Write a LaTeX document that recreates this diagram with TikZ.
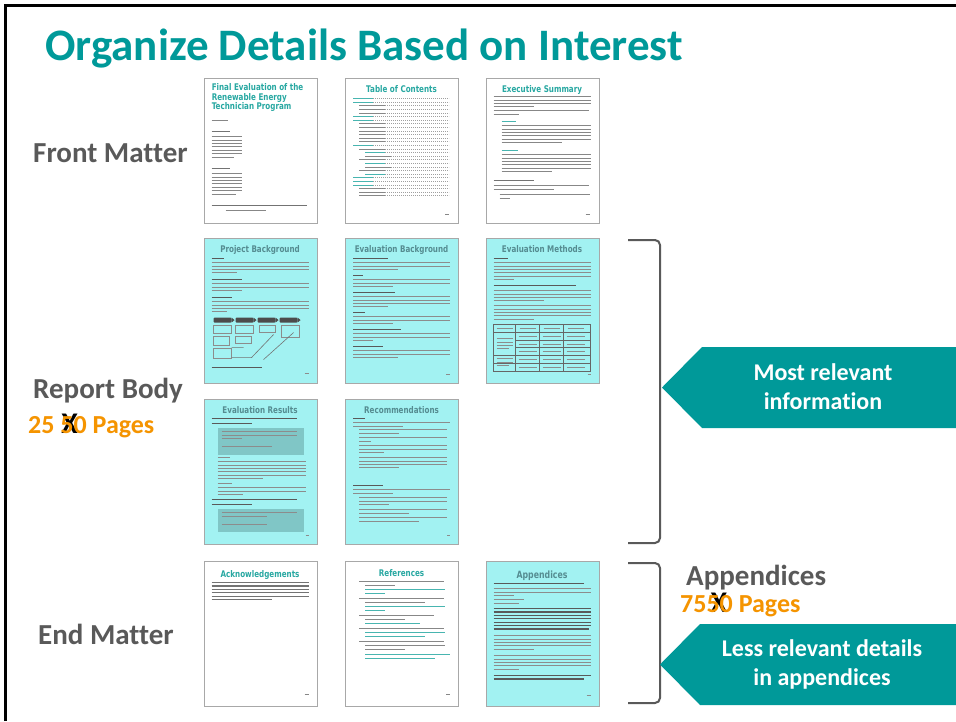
\documentclass[tikz,border=0pt]{standalone}
\usepackage{graphicx}
\usepackage{fontspec}
\setmainfont{Carlito}[Ligatures=NoCommon]
\newfontfamily\dv{DejaVu Sans}
\definecolor{teal1}{RGB}{0,153,153}
\definecolor{lbl}{RGB}{89,89,89}
\definecolor{org}{RGB}{245,148,0}
\definecolor{cyanpg}{RGB}{162,242,242}
\definecolor{pgborder}{RGB}{168,168,168}
\definecolor{ttlw}{RGB}{40,168,162}
\definecolor{ttlc}{RGB}{85,140,145}
\definecolor{txt}{RGB}{135,135,135}
\definecolor{boxshade}{RGB}{128,198,198}
\tikzset{
  page/.style={draw=pgborder, line width=0.9pt, minimum width=113pt, minimum height=145pt, inner sep=0pt},
  wpage/.style={page, fill=white},
  cpage/.style={page, fill=cyanpg},
  pgt/.style={font=\dv\bfseries\fontsize{9.2}{10}\selectfont, inner sep=0pt},
  tx/.style={draw=txt, line width=0.9pt},
  txd/.style={draw=black!55, line width=1.1pt},
  txl/.style={draw=ttlw!85, line width=0.9pt},
  cyanin/.style={tx/.style={draw=black!45, line width=0.9pt}, txd/.style={draw=black!65, line width=1.1pt}},
  lblnode/.style={font=\bfseries\fontsize{29}{31}\selectfont, text=lbl, inner sep=0pt},
  orgnode/.style={font=\bfseries\fontsize{26}{28}\selectfont, text=org, inner sep=0pt},
  arrtext/.style={font=\bfseries\fontsize{24}{29}\selectfont, text=white, align=center, inner sep=0pt},
  brk/.style={draw=lbl, line width=2pt, rounded corners=5pt},
}
\newcommand{\sq}[1]{\scalebox{0.78}[1]{#1}}
\newcommand{\bigX}{{\color{black}\fontsize{30}{30}\selectfont X}}
\newcommand{\pgdy}{3.4}
\newcommand{\pglines}[6][tx]{%
  \pgfmathtruncatemacro\pgn{#4-1}%
  \ifnum\pgn>0 \foreach \ii in {1,...,\pgn}{\draw[#1] (#2,{#3+(\ii-1)*\pgdy}) -- ++(#5,0);}\fi
  \draw[#1] (#2,{#3+(#4-1)*\pgdy}) -- ++(#6,0);}
\begin{document}
\begin{tikzpicture}[x=1pt,y=-1pt]
\useasboundingbox (0,0) rectangle (956,721);
\fill[white] (0,0) rectangle (956,721);
\draw[black, line width=3pt] (5.5,721) -- (5.5,5.5) -- (956,5.5);

% title
\node[anchor=base west, inner sep=0pt, text=teal1, font=\bfseries\fontsize{45}{48}\selectfont] (title) at (45,60) {Organize Details Based on Interest};

% labels
\node[lblnode, anchor=base west] (front) at (33,162) {Front Matter};
\node[lblnode, anchor=base west] (body) at (33,398) {Report Body};
\node[orgnode, anchor=base west] (bodypg) at (28,433) {25 \makebox[0pt][l]{\hspace{1pt}\bigX}50 Pages};
\node[lblnode, anchor=base west] (endm) at (38,644) {End Matter};
\node[lblnode, anchor=base west] (appx) at (686,585) {Appendices};
\node[orgnode, anchor=base west] (appxpg) at (680,612.5) {75\makebox[0pt][l]{\hspace{4pt}\bigX}50 Pages};

% pages
\node[wpage] (fm1) at (260.5,150.5) {};
\node[wpage] (fm2) at (402,150.5) {};
\node[wpage] (fm3) at (542.5,150.5) {};
\node[cpage] (rb1) at (260.5,310.5) {};
\node[cpage] (rb2) at (402,310.5) {};
\node[cpage] (rb3) at (542.5,310.5) {};
\node[cpage] (rb4) at (260.5,471.5) {};
\node[cpage] (rb5) at (402,471.5) {};
\node[wpage] (em1) at (260.5,633.5) {};
\node[wpage] (em2) at (402,633.5) {};
\node[cpage] (em3) at (542.5,633.5) {};

% ---- fm1 title page
\begin{scope}[shift={(fm1.north west)}]
\node[pgt, anchor=north west, align=left, text=ttlw] (fm1t) at (8,5.5) {\sq{Final Evaluation of the}\\[-0.2pt]\sq{Renewable Energy}\\[-0.2pt]\sq{Technician Program}};
\pglines[tx]{8}{43}{1}{16}{16}
\pglines[txd]{8}{54}{1}{18}{18}
\pglines[tx]{8}{59}{7}{30}{22}
\pglines[txd]{8}{91}{1}{18}{18}
\pglines[tx]{8}{96}{7}{30}{24}
\pglines[txd]{8}{128}{1}{95}{95}
\pglines[tx]{22}{133}{1}{40}{40}
\end{scope}

% ---- fm2 TOC
\begin{scope}[shift={(fm2.north west)}]
\node[pgt, text=ttlw] (fm2t) at (56.5,12) {\sq{Table of Contents}};
\foreach \yy/\xx/\ll in {21/8/1,24.6/8/1,28.2/14/0,31.8/14/0,35.4/14/0,39/8/1,42.6/8/1,46.2/14/0,49.8/14/0,53.4/14/0,57/14/0,60.6/14/0,64.2/14/0,67.8/8/1,71.4/14/0,75/20/1,78.6/20/0,82.2/14/0,85.8/20/1,89.4/20/0,93/14/0,96.6/20/1,100.2/8/1,103.8/8/1,107.4/8/1,111/14/0,114.6/14/0,118.2/14/0}{
  \draw[txt!80, line width=0.6pt, dash pattern=on 0.9pt off 1.1pt] (\xx,\yy) -- (104,\yy);
  \ifnum\ll=1 \draw[txl] (\xx,\yy) -- ++(20,0); \else \draw[tx] (\xx,\yy) -- ++(26,0); \fi
}
\pglines[tx]{100}{137}{1}{4}{4}
\end{scope}

% ---- fm3 Exec summary
\begin{scope}[shift={(fm3.north west)}]
\node[pgt, text=ttlw] (fm3t) at (56.5,12) {\sq{Executive Summary}};
\pglines[tx]{8}{19}{4}{97}{40}
\pglines[tx]{8}{33}{1}{95}{95}
\pglines[tx]{8}{37}{1}{25}{25}
\pglines[txl]{16}{44}{1}{14}{14}
\pglines[tx]{16}{48}{6}{89}{60}
\pglines[txl]{16}{73}{1}{16}{16}
\pglines[tx]{16}{77}{6}{89}{50}
\pglines[txd]{8}{103}{1}{40}{40}
\pglines[tx]{8}{108}{2}{95}{60}
\pglines[tx]{14}{117}{2}{90}{10}
\pglines[tx]{100}{137}{1}{4}{4}
\end{scope}

% ---- rb1 Project Background
\begin{scope}[shift={(rb1.north west)}, cyanin]
\node[pgt, text=ttlc] (rb1t) at (56.5,12) {\sq{Project Background}};
\pglines[txd]{8}{21}{1}{12}{12}
\pglines[tx]{8}{25}{4}{97}{25}
\pglines[txd]{8}{42}{1}{30}{30}
\pglines[tx]{8}{46}{3}{97}{30}
\pglines[txd]{8}{60}{1}{20}{20}
\pglines[tx]{8}{64}{4}{97}{15}
\foreach \xa in {10,32,54,76}{
  \fill[black!70, rounded corners=1pt] (\xa,80) rectangle ++(18,5);
  \fill[black!70] (\xa+18,80) -- (\xa+21,82.5) -- (\xa+18,85) -- cycle;
}
\draw[black!45, line width=0.4pt] (10,88) rectangle (28,96) (10,99) rectangle (26,108) (10,111) rectangle (28,121)
  (32,88) rectangle (50,96) (32,99) rectangle (48,106) (56,88) rectangle (72,95) (78,88) rectangle (96,100);
\draw[black!55, line width=0.6pt] (48,120) -- (70,97) (60,122) -- (90,95) (28,120) -- (48,120) (28,110) -- (40,110);
\pglines[txd]{8}{130}{1}{50}{50}
\pglines[tx]{101}{136}{1}{4}{4}
\end{scope}

% ---- rb2 Evaluation Background
\begin{scope}[shift={(rb2.north west)}, cyanin]
\node[pgt, text=ttlc] (rb2t) at (56.5,12) {\sq{Evaluation Background}};
\pglines[txd]{8}{21}{1}{35}{35}
\pglines[tx]{8}{25}{3}{97}{45}
\pglines[txd]{8}{38}{1}{10}{10}
\pglines[tx]{8}{42}{3}{97}{40}
\pglines[txd]{8}{55}{1}{42}{42}
\pglines[tx]{8}{59}{4}{97}{35}
\pglines[txd]{8}{75}{1}{12}{12}
\pglines[tx]{8}{79}{3}{97}{40}
\pglines[txd]{8}{92}{1}{48}{48}
\pglines[tx]{8}{96}{3}{97}{20}
\pglines[txd]{8}{109}{1}{30}{30}
\pglines[tx]{8}{113}{3}{97}{45}
\pglines[tx]{101}{137}{1}{4}{4}
\end{scope}

% ---- rb3 Evaluation Methods
\begin{scope}[shift={(rb3.north west)}, cyanin]
\node[pgt, text=ttlc] (rb3t) at (56.5,12) {\sq{Evaluation Methods}};
\pglines[txd]{8}{21}{1}{14}{14}
\pglines[tx]{8}{25}{6}{97}{20}
\pglines[txd]{8}{48}{1}{82}{82}
\pglines[tx]{8}{53}{4}{97}{50}
\pglines[tx]{8}{68}{5}{97}{40}
\draw[black!60, line width=0.6pt] (8,87) rectangle (105,134)
  (30,87) -- (30,134) (54,87) -- (54,134) (78,87) -- (78,134)
  (8,95) -- (105,95) (30,103) -- (105,103) (30,110) -- (105,110) (8,118) -- (105,118) (8,126) -- (105,126);
\foreach \cx in {33,57,81}{\foreach \cy in {99,106.5,114,122,130}{\draw[black!45, line width=0.6pt] (\cx,\cy) -- ++(18,0);}}
\foreach \cx in {11,34,58,82}{\draw[black!45, line width=0.6pt] (\cx,91) -- ++(16,0);}
\pglines[tx]{11}{101}{4}{16}{12}
\pglines[tx]{11}{121}{3}{16}{12}
\pglines[tx]{102}{137}{1}{3}{3}
\end{scope}

% ---- rb4 Evaluation Results
\begin{scope}[shift={(rb4.north west)}, cyanin]
\node[pgt, text=ttlc] (rb4t) at (56.5,12) {\sq{Evaluation Results}};
\pglines[txd]{8}{20}{1}{85}{85}
\pglines[txd]{8}{25}{1}{40}{40}
\fill[boxshade] (14,29) rectangle (100,56);
\pglines[tx]{18}{33}{3}{75}{20}
\pglines[tx]{18}{48}{1}{50}{50}
\pglines[tx]{14}{59}{1}{12}{12}
\pglines[tx]{14}{63}{6}{88}{45}
\pglines[tx]{14}{85}{1}{14}{14}
\pglines[tx]{14}{89}{3}{88}{25}
\pglines[txd]{8}{101}{1}{85}{85}
\pglines[txd]{8}{106}{1}{40}{40}
\fill[boxshade] (14,110) rectangle (100,133);
\pglines[tx]{18}{114}{2}{75}{45}
\pglines[tx]{18}{126}{1}{45}{45}
\pglines[tx]{102}{137}{1}{3}{3}
\end{scope}

% ---- rb5 Recommendations
\begin{scope}[shift={(rb5.north west)}, cyanin]
\node[pgt, text=ttlc] (rb5t) at (56.5,12) {\sq{Recommendations}};
\pglines[txd]{8}{20}{1}{12}{12}
\pglines[tx]{8}{24}{2}{97}{50}
\pglines[tx]{14}{31}{2}{88}{40}
\pglines[tx]{14}{39}{2}{88}{12}
\pglines[tx]{14}{47}{3}{88}{25}
\pglines[tx]{14}{59}{4}{88}{40}
\pglines[txd]{8}{87}{1}{30}{30}
\pglines[tx]{8}{91}{2}{97}{40}
\pglines[tx]{14}{99}{3}{88}{30}
\pglines[tx]{14}{111}{2}{88}{50}
\pglines[tx]{14}{119}{2}{88}{60}
\pglines[tx]{102}{137}{1}{3}{3}
\end{scope}

% ---- em1 Acknowledgements
\begin{scope}[shift={(em1.north west)}]
\node[pgt, text=ttlw] (em1t) at (56.5,14) {\sq{Acknowledgements}};
\pglines[txd]{8}{22}{6}{97}{60}
\pglines[tx]{101}{134}{1}{4}{4}
\end{scope}

% ---- em2 References
\begin{scope}[shift={(em2.north west)}]
\node[pgt, text=ttlw] (em2t) at (56.5,13) {\sq{References}};
\pglines[tx]{14}{21}{1}{85}{85}
\pglines[tx]{20}{25}{1}{30}{30}
\pglines[txl]{20}{29}{2}{80}{20}
\pglines[tx]{14}{38}{1}{85}{85}
\pglines[tx]{20}{42}{1}{60}{60}
\pglines[txl]{20}{46}{2}{80}{20}
\pglines[tx]{14}{55}{1}{75}{75}
\pglines[tx]{20}{59}{1}{40}{40}
\pglines[txl]{20}{63}{1}{55}{55}
\pglines[tx]{14}{68}{1}{85}{85}
\pglines[txl]{20}{72}{2}{80}{60}
\pglines[tx]{14}{81}{1}{85}{85}
\pglines[tx]{20}{85}{2}{80}{40}
\pglines[txl]{20}{94}{2}{85}{70}
\pglines[tx]{101}{134}{1}{4}{4}
\end{scope}

% ---- em3 Appendices
\begin{scope}[shift={(em3.north west)}, cyanin]
\node[pgt, text=ttlc, font=\dv\bfseries\fontsize{10}{11}\selectfont] (em3t) at (56.5,15) {\sq{Appendices}};
\pglines[txd]{8}{23}{1}{90}{90}
\pglines[tx]{8}{28}{3}{97}{20}
\pglines[tx]{8}{39}{1}{30}{30}
\pglines[tx]{8}{43}{1}{25}{25}
\pglines[txd]{8}{48}{7}{97}{95}
\pglines[tx]{8}{75}{5}{97}{40}
\pglines[tx]{8}{95}{5}{97}{25}
\pglines[txd]{8}{115}{2}{97}{90}
\pglines[tx]{101}{135}{1}{4}{4}
\end{scope}

% brackets
\coordinate (b1a) at (628,240);
\coordinate (b1b) at (628,543);
\draw[brk] (b1a) -- (660,240) -- (660,543) -- (b1b);
\coordinate (b2a) at (628,563);
\coordinate (b2b) at (628,703);
\draw[brk] (b2a) -- (660,563) -- (660,703) -- (b2b);

% arrow callouts
\fill[teal1] (662,387.5) -- (702,347) -- (956,347) -- (956,428) -- (702,428) -- cycle;
\node[arrtext] (most) at (823,387) {Most relevant\\information};
\fill[teal1] (660,664.5) -- (700,624) -- (956,624) -- (956,705) -- (700,705) -- cycle;
\node[arrtext] (less) at (822,664) {Less relevant details\\in appendices};
\end{tikzpicture}
\end{document}
